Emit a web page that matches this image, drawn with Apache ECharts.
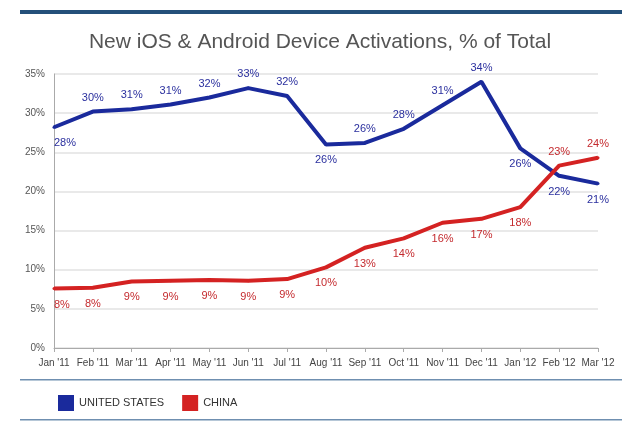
<!DOCTYPE html>
<html lang="en">
<head>
<meta charset="UTF-8">
<title>activations</title>
<script src="https://cdn.jsdelivr.net/npm/echarts@6/dist/echarts.min.js"></script>
<style>
    html, body { margin: 0; padding: 0; background: #fff; }
    #chart { width: 640px; height: 426px; }
</style>
</head>
<body>
<div id="chart"></div>
<script>
// months on the x axis
var months = ["Jan '11", "Feb '11", "Mar '11", "Apr '11", "May '11", "Jun '11", "Jul '11",
    "Aug '11", "Sep '11", "Oct '11", "Nov '11", "Dec '11", "Jan '12", "Feb '12", "Mar '12"];
// share of new device activations, %
var usValues = [28.2, 30.2, 30.5, 31.1, 32.0, 33.2, 32.2, 26.0, 26.2, 28.0, 31.0, 34.0, 25.5, 22.0, 21.0];
var chinaValues = [7.6, 7.7, 8.5, 8.6, 8.7, 8.6, 8.8, 10.3, 12.8, 14.0, 16.0, 16.5, 18.0, 23.3, 24.3];
// where each point label sits
var usLabelPos = ['below', 'above', 'above', 'above', 'above', 'above', 'above', 'below',
    'above', 'above', 'above', 'above', 'below', 'below', 'below'];
var chinaLabelPos = ['below', 'below', 'below', 'below', 'below', 'below', 'below', 'below',
    'below', 'below', 'below', 'below', 'below', 'above', 'above'];
var yTicks = [0, 5, 10, 15, 20, 25, 30, 35];

var font = 'Liberation Sans, Arial, sans-serif';

function pointData(values, positions, color) {
    return values.map(function (v, i) {
        var up = positions[i] === 'above';
        var label = {
            position: up ? 'top' : 'bottom',
            distance: up ? 7 : 9,
            color: color
        };
        // the first label starts at the axis instead of sitting centred on it
        if (i === 0) {
            label.align = 'left';
        }
        return { value: v, label: label };
    });
}

var chart = echarts.init(document.getElementById('chart'));
chart.setOption({
    animation: false,
    title: {
        text: 'New iOS & Android Device Activations, % of Total',
        left: 'center',
        top: 27,
        textStyle: { fontFamily: font, fontSize: 21, fontWeight: 'normal', color: '#555' }
    },
    grid: { left: 54, right: 42, top: 74, bottom: 78 },
    legend: {
        left: 53,
        top: 390,
        icon: 'rect',
        itemWidth: 16,
        itemHeight: 16,
        itemGap: 18,
        textStyle: { fontFamily: 'Liberation Sans Narrow, ' + font, fontSize: 11, color: '#333' },
        data: ['UNITED STATES', 'CHINA']
    },
    graphic: [
        { type: 'rect', shape: { x: 20, y: 10, width: 602, height: 4 }, style: { fill: '#24507a' } },
        { type: 'rect', shape: { x: 20, y: 379, width: 602, height: 1.5 }, style: { fill: '#6f8fb0' } },
        { type: 'rect', shape: { x: 20, y: 419, width: 602, height: 1.5 }, style: { fill: '#6f8fb0' } }
    ],
    xAxis: {
        type: 'category',
        boundaryGap: false,
        data: months,
        axisLine: { lineStyle: { color: '#aaa' } },
        axisTick: { show: true, length: 4, lineStyle: { color: '#aaa' } },
        axisLabel: { fontFamily: 'Liberation Sans Narrow, ' + font, fontSize: 10, color: '#444', margin: 10, interval: 0 }
    },
    yAxis: {
        type: 'value',
        min: yTicks[0],
        max: yTicks[yTicks.length - 1],
        interval: 5,
        axisLine: { show: true, lineStyle: { color: '#aaa' } },
        axisTick: { show: false },
        splitLine: { lineStyle: { color: '#e2e2e2', width: 1.5 } },
        axisLabel: {
            fontFamily: 'Liberation Sans Narrow, ' + font, fontSize: 10, color: '#555', margin: 9,
            formatter: function (v) { return v + '%'; }
        }
    },
    series: [
        {
            name: 'UNITED STATES',
            type: 'line',
            data: pointData(usValues, usLabelPos, '#2a2f9e'),
            symbol: 'circle',
            symbolSize: 3,
            showSymbol: true,
            itemStyle: { color: '#1a2a9c', borderWidth: 0 },
            lineStyle: { width: 4, color: '#1a2a9c' },
            label: {
                show: true,
                fontFamily: font,
                fontSize: 11,
                formatter: function (p) { return Math.round(p.value) + '%'; }
            },
            labelLayout: { hideOverlap: false }
        },
        {
            name: 'CHINA',
            type: 'line',
            data: pointData(chinaValues, chinaLabelPos, '#c42a2e'),
            symbol: 'circle',
            symbolSize: 3,
            showSymbol: true,
            itemStyle: { color: '#d42222', borderWidth: 0 },
            lineStyle: { width: 4, color: '#d42222' },
            label: {
                show: true,
                fontFamily: font,
                fontSize: 11,
                formatter: function (p) { return Math.round(p.value) + '%'; }
            },
            labelLayout: { hideOverlap: false }
        }
    ]
});
</script>
</body>
</html>
